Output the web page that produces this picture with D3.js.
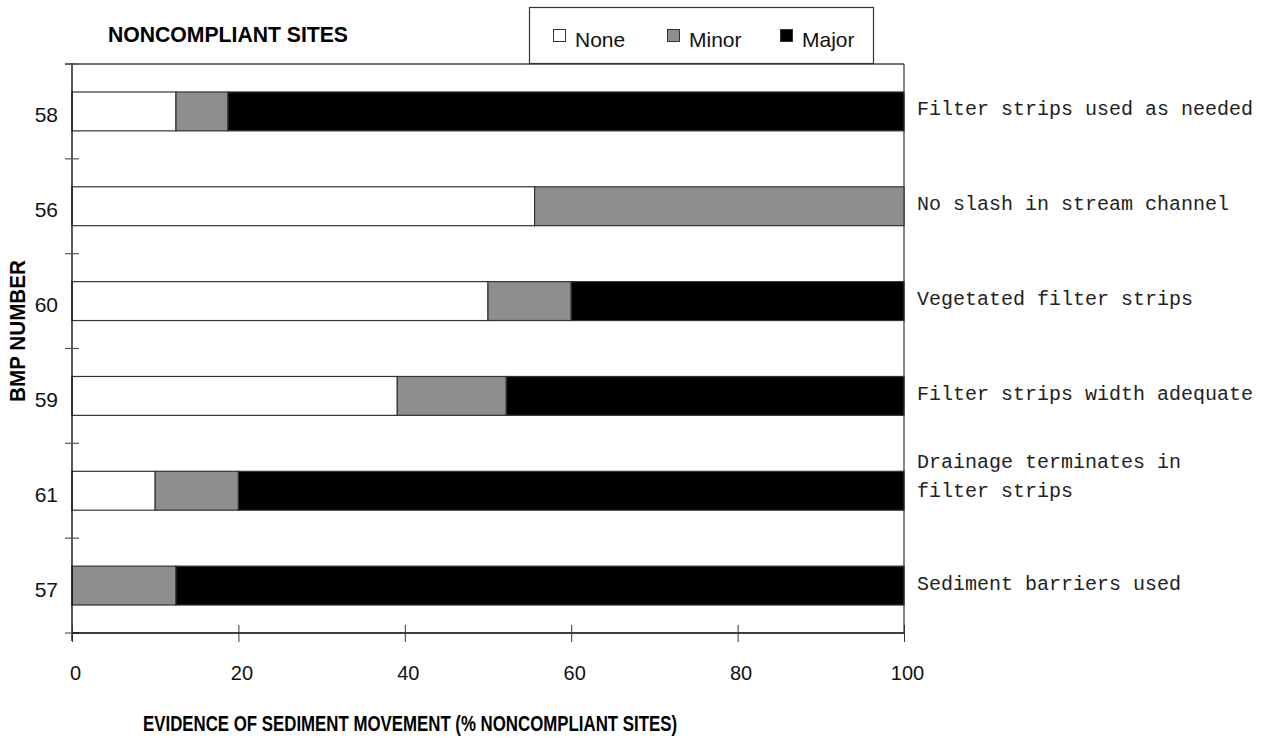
<!DOCTYPE html>
<html>
<head>
<meta charset="utf-8">
<script src="https://cdn.jsdelivr.net/npm/d3@7"></script>
<style>
  html, body { margin: 0; padding: 0; background: #fff; }
  svg { display: block; }
</style>
</head>
<body>
<svg id="chart" width="1271" height="738"></svg>
<script>
// ---- data ----
const categories = ["58", "56", "60", "59", "61", "57"];
const practices = [
  ["Filter strips used as needed"],
  ["No slash in stream channel"],
  ["Vegetated filter strips"],
  ["Filter strips width adequate"],
  ["Drainage terminates in", "filter strips"],
  ["Sediment barriers used"]
];
const noneValues  = [12.5, 55.6, 50.0, 39.1, 10.0, 0.0];
const minorValues = [6.25, 44.4, 10.0, 13.1, 10.0, 12.5];
const majorValues = [81.25, 0.0, 40.0, 47.8, 80.0, 87.5];
const seriesNames = ["None", "Minor", "Major"];
const xTicks = [0, 20, 40, 60, 80, 100];

(function () {
// ---- layout ----
const svg = d3.select("#chart");
const pL = 72, pR = 904, pT = 64, pB = 633;
const colors = { None: "#ffffff", Minor: "#8e8e8e", Major: "#000000" };

const x = d3.scaleLinear().domain([0, 100]).range([pL, pR]);
const pad = 0.59;
const y = d3.scaleBand().domain(categories).range([pT, pB])
  .paddingInner(pad).paddingOuter(pad / 2);

const rows = categories.map((c, i) => ({
  cat: c, None: noneValues[i], Minor: minorValues[i], Major: majorValues[i]
}));
const stack = d3.stack().keys(seriesNames)(rows);

// plot frame (top + right)
svg.append("line").attr("x1", 65).attr("x2", pR).attr("y1", pT).attr("y2", pT)
  .attr("stroke", "#444").attr("stroke-width", 1.3);
svg.append("line").attr("x1", pR).attr("x2", pR).attr("y1", pT).attr("y2", pB)
  .attr("stroke", "#444").attr("stroke-width", 1.3);

// bars
stack.forEach(layer => {
  svg.append("g").selectAll("rect").data(layer.filter(d => d[1] - d[0] > 0)).join("rect")
    .attr("x", d => x(d[0]))
    .attr("width", d => x(d[1]) - x(d[0]))
    .attr("y", d => y(d.data.cat))
    .attr("height", y.bandwidth())
    .attr("fill", colors[layer.key])
    .attr("stroke", "#333")
    .attr("stroke-width", 1.2);
});

// y axis line + boundary ticks
svg.append("line").attr("x1", pL).attr("x2", pL).attr("y1", pT - 1).attr("y2", pB + 8)
  .attr("stroke", "#000").attr("stroke-width", 1.3);
const bounds = d3.range(categories.length + 1).map(i => y.range()[0] + i * y.step());
svg.append("g").selectAll("line").data(bounds).join("line")
  .attr("x1", 65).attr("x2", 79).attr("y1", d => d).attr("y2", d => d)
  .attr("stroke", "#555").attr("stroke-width", 1.2);

// y tick labels
svg.append("g").selectAll("text").data(categories).join("text")
  .attr("x", 58).attr("y", d => y(d) + y.bandwidth() / 2 + 11)
  .attr("text-anchor", "end")
  .attr("font-family", "Liberation Sans, Arial, sans-serif")
  .attr("font-size", 21).attr("fill", "#111")
  .text(d => d);

// x axis
const xAxis = d3.axisBottom(x).tickValues(xTicks).tickSize(8).tickFormat(d3.format("d"));
const gx = svg.append("g").attr("transform", `translate(0,${pB})`).call(xAxis);
gx.select(".domain").attr("stroke", "#000").attr("stroke-width", 1.3).attr("d", `M${pL},0H${pR}`);
gx.selectAll(".tick line").attr("y1", -8).attr("y2", 9).attr("stroke", "#333");
gx.selectAll(".tick text")
  .attr("y", 47).attr("dy", 0).attr("dx", 3)
  .attr("font-family", "Liberation Sans, Arial, sans-serif")
  .attr("font-size", 20).attr("fill", "#111");

// right-side practice labels
const lab = svg.append("g").selectAll("text").data(practices).join("text")
  .attr("font-family", "Liberation Mono, Courier New, monospace")
  .attr("font-size", 20).attr("fill", "#222")
  .attr("x", 917)
  .attr("y", (d, i) => y(categories[i]) + y.bandwidth() / 2 + (d.length > 1 ? -23 : 4));
lab.selectAll("tspan").data(d => d).join("tspan")
  .attr("x", 917).attr("dy", (d, j) => j === 0 ? 0 : 29)
  .text(d => d);

// titles
svg.append("text").attr("x", 108).attr("y", 42)
  .attr("font-family", "Liberation Sans, Arial, sans-serif").attr("font-weight", "bold")
  .attr("font-size", 22).attr("textLength", 240).attr("lengthAdjust", "spacingAndGlyphs")
  .attr("fill", "#000").text("NONCOMPLIANT SITES");

svg.append("text").attr("x", 143).attr("y", 731)
  .attr("font-family", "Liberation Sans, Arial, sans-serif").attr("font-weight", "bold")
  .attr("font-size", 22).attr("textLength", 534).attr("lengthAdjust", "spacingAndGlyphs")
  .attr("fill", "#000").text("EVIDENCE OF SEDIMENT MOVEMENT (% NONCOMPLIANT SITES)");

svg.append("text").attr("transform", "translate(25,402) rotate(-90)")
  .attr("font-family", "Liberation Sans, Arial, sans-serif").attr("font-weight", "bold")
  .attr("font-size", 22).attr("textLength", 142).attr("lengthAdjust", "spacingAndGlyphs")
  .attr("fill", "#000").text("BMP NUMBER");

// legend
const lg = svg.append("g");
lg.append("rect").attr("x", 529.5).attr("y", 7.5).attr("width", 344).attr("height", 56)
  .attr("fill", "#fff").attr("stroke", "#333").attr("stroke-width", 1.2);
const legendX = [553, 667, 780];
seriesNames.forEach((s, i) => {
  lg.append("rect").attr("x", legendX[i] + 0.5).attr("y", 29.5).attr("width", 12).attr("height", 12)
    .attr("fill", colors[s]).attr("stroke", "#333").attr("stroke-width", 1);
  lg.append("text").attr("x", legendX[i] + 22).attr("y", 47)
    .attr("font-family", "Liberation Sans, Arial, sans-serif").attr("font-size", 21)
    .attr("fill", "#111").text(s);
});
})();
</script>
</body>
</html>
